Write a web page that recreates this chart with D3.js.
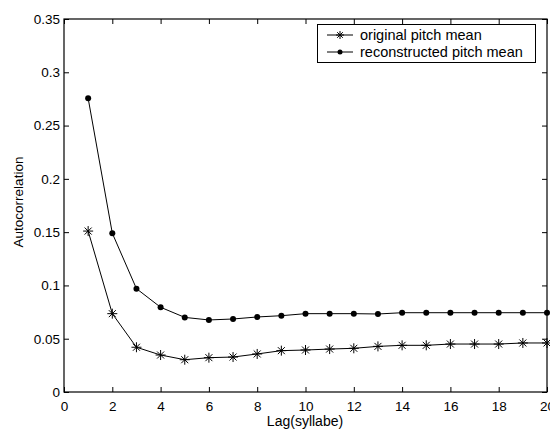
<!DOCTYPE html>
<html>
<head>
<meta charset="utf-8">
<script src="https://cdn.jsdelivr.net/npm/d3@7"></script>
<style>
  body { margin: 0; background: #fff; }
  svg { display: block; }
  text { font-family: "Liberation Sans", Arial, sans-serif; fill: #000; }
</style>
</head>
<body>
<svg id="chart" width="550" height="430"></svg>
<script>
'use strict';

// lag values 1..20
const lags = [1, 2, 3, 4, 5, 6, 7, 8, 9, 10, 11, 12, 13, 14, 15, 16, 17, 18, 19, 20];
const originalMean = [0.151, 0.0735, 0.042, 0.0347, 0.0303, 0.0322, 0.0328, 0.0357, 0.0388, 0.0394,
  0.0403, 0.041, 0.0428, 0.0438, 0.0438, 0.045, 0.045, 0.045, 0.046, 0.046];
const reconMean = [0.2756, 0.149, 0.097, 0.0795, 0.070, 0.0676, 0.0685, 0.0704, 0.0716, 0.0735,
  0.0735, 0.0735, 0.0732, 0.0744, 0.0744, 0.0744, 0.0744, 0.0744, 0.0744, 0.0744];
const xTicks = [0, 2, 4, 6, 8, 10, 12, 14, 16, 18, 20];
const yTicks = [0, 0.05, 0.1, 0.15, 0.2, 0.25, 0.3, 0.35];
const seriesNames = ['original pitch mean', 'reconstructed pitch mean'];

const plotLeft = 64, plotRight = 547, plotTop = 19, plotBottom = 392;
const tickLen = 5;

const svg = d3.select('#chart');
const x = d3.scaleLinear().domain([0, 20]).range([plotLeft, plotRight]);
const y = d3.scaleLinear().domain([0, 0.35]).range([plotBottom, plotTop]);

// frame
svg.append('rect')
  .attr('x', plotLeft).attr('y', plotTop)
  .attr('width', plotRight - plotLeft).attr('height', plotBottom - plotTop)
  .attr('fill', 'none').attr('stroke', '#000').attr('stroke-width', 1.2);

// axes with inward ticks
const fmtY = d => d === 0 ? '0' : String(+d.toFixed(2));
svg.append('g')
  .attr('transform', `translate(0,${plotBottom})`)
  .call(d3.axisBottom(x).tickValues(xTicks).tickSizeInner(-tickLen).tickSizeOuter(0).tickPadding(9))
  .call(g => g.select('.domain').remove());
svg.append('g')
  .attr('transform', `translate(0,${plotTop})`)
  .call(d3.axisTop(x).tickValues(xTicks).tickSizeInner(-tickLen).tickSizeOuter(0).tickFormat(''))
  .call(g => g.select('.domain').remove());
svg.append('g')
  .attr('transform', `translate(${plotLeft},0)`)
  .call(d3.axisLeft(y).tickValues(yTicks).tickSizeInner(-tickLen).tickSizeOuter(0).tickPadding(4).tickFormat(fmtY))
  .call(g => g.select('.domain').remove());
svg.append('g')
  .attr('transform', `translate(${plotRight},0)`)
  .call(d3.axisRight(y).tickValues(yTicks).tickSizeInner(-tickLen).tickSizeOuter(0).tickFormat(''))
  .call(g => g.select('.domain').remove());

svg.selectAll('.tick text').attr('font-size', 13.5).attr('font-family', '"Liberation Sans", Arial, sans-serif');
svg.selectAll('.tick line').attr('stroke', '#000');

// axis labels
svg.append('text')
  .attr('x', 305).attr('y', 426)
  .attr('text-anchor', 'middle').attr('font-size', 14)
  .text('Lag(syllabe)');
svg.append('text')
  .attr('transform', 'translate(23,202) rotate(-90)')
  .attr('text-anchor', 'middle').attr('font-size', 13.5)
  .text('Autocorrelation');

const line = d3.line().x(d => x(d[0])).y(d => y(d[1]));
const origData = lags.map((l, i) => [l, originalMean[i]]);
const reconData = lags.map((l, i) => [l, reconMean[i]]);

function drawStar(g, cx, cy, r) {
  const d = r * 0.7;
  g.append('path')
    .attr('d', `M${cx - r},${cy}H${cx + r}M${cx},${cy - r}V${cy + r}` +
      `M${cx - d},${cy - d}L${cx + d},${cy + d}M${cx - d},${cy + d}L${cx + d},${cy - d}`)
    .attr('stroke', '#000').attr('stroke-width', 1).attr('fill', 'none');
}

const plot = svg.append('g');
plot.append('path').datum(origData).attr('d', line)
  .attr('fill', 'none').attr('stroke', '#000').attr('stroke-width', 1);
plot.append('path').datum(reconData).attr('d', line)
  .attr('fill', 'none').attr('stroke', '#000').attr('stroke-width', 1);

origData.forEach(d => drawStar(plot, x(d[0]), y(d[1]), 5));
plot.selectAll('circle.recon').data(reconData).enter()
  .append('circle').attr('class', 'recon')
  .attr('cx', d => x(d[0])).attr('cy', d => y(d[1])).attr('r', 3)
  .attr('fill', '#000');

// legend
const lg = svg.append('g');
lg.append('rect')
  .attr('x', 317.5).attr('y', 24.5).attr('width', 218).attr('height', 38)
  .attr('fill', '#fff').attr('stroke', '#000').attr('stroke-width', 1);
[35, 52].forEach((ly, i) => {
  lg.append('line').attr('x1', 327).attr('x2', 353).attr('y1', ly).attr('y2', ly)
    .attr('stroke', '#000').attr('stroke-width', 1);
  if (i === 0) drawStar(lg, 340, ly, 4);
  else lg.append('circle').attr('cx', 340).attr('cy', ly).attr('r', 2.5).attr('fill', '#000');
  lg.append('text').attr('x', 360).attr('y', ly + 5).attr('font-size', 14.5).text(seriesNames[i]);
});
</script>
</body>
</html>
